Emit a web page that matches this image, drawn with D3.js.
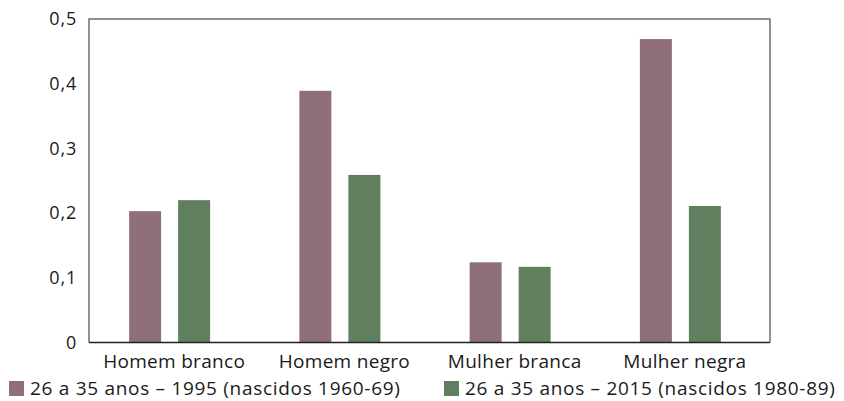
<!DOCTYPE html>
<html>
<head>
<meta charset="utf-8">
<script src="https://cdn.jsdelivr.net/npm/d3@7"></script>
<style>
  body { margin: 0; background: #fff; }
  svg text { font-family: "Open Sans", "Noto Sans", sans-serif; fill: #1a1a1a; }
</style>
</head>
<body>
<div id="container"></div>
<script>
const categories = ['Homem branco', 'Homem negro', 'Mulher branca', 'Mulher negra'];
const series = ['26 a 35 anos – 1995 (nascidos 1960-69)', '26 a 35 anos – 2015 (nascidos 1980-89)'];
const values1995 = [0.203, 0.389, 0.124, 0.469];
const values2015 = [0.220, 0.259, 0.117, 0.211];
const yTicks = [0, 0.1, 0.2, 0.3, 0.4, 0.5];

const w = 844;
const h = 401;
const padLeft = 89, padRight = 770, padTop = 19, padBottom = 342.5;
const colors = ['#8f7079', '#5f7f5f'];

const svg = d3.select('#container')
  .append('svg')
  .attr('width', w)
  .attr('height', h);

const xScale = d3.scaleBand()
  .domain(categories)
  .range([padLeft, padRight]);
const yScale = d3.scaleLinear()
  .domain([0, 0.5])
  .range([padBottom, padTop]);

const barW = 32;
const data = categories.map((c, i) => ({ c, v: [values1995[i], values2015[i]] }));

const groups = svg.selectAll('g.cat')
  .data(data)
  .enter()
  .append('g')
  .attr('class', 'cat');
groups.selectAll('rect')
  .data(d => d.v.map((v, k) => ({ c: d.c, v, k })))
  .enter()
  .append('rect')
  .attr('x', d => xScale(d.c) + xScale.bandwidth() / 2 - 4 - 41 + d.k * 49)
  .attr('y', d => yScale(d.v))
  .attr('width', barW)
  .attr('height', d => yScale(0) - yScale(d.v))
  .attr('fill', d => colors[d.k]);

// frame
svg.append('path')
  .attr('d', `M${padLeft},${padBottom}V${padTop}H${padRight}V${padBottom}`)
  .attr('fill', 'none')
  .attr('stroke', '#6e6e6e')
  .attr('stroke-width', 1.5);
svg.append('line')
  .attr('x1', padLeft).attr('x2', padRight)
  .attr('y1', padBottom).attr('y2', padBottom)
  .attr('stroke', '#222')
  .attr('stroke-width', 1.5);

const yAxis = d3.axisLeft(yScale)
  .tickValues(yTicks)
  .tickSize(0)
  .tickPadding(12)
  .tickFormat(d => d === 0 ? '0' : d3.format('.1f')(d).replace('.', ','));
svg.append('g')
  .attr('transform', `translate(${padLeft},0)`)
  .call(yAxis)
  .call(g => g.select('.domain').remove())
  .selectAll('text')
  .style('font-size', '18px')
  .style('letter-spacing', '0.8px')
  .attr('fill', '#1a1a1a');

const xAxis = d3.axisBottom(xScale).tickSize(0).tickPadding(12.5);
svg.append('g')
  .attr('transform', `translate(0,${padBottom})`)
  .call(xAxis)
  .call(g => g.select('.domain').remove())
  .selectAll('text')
  .style('font-size', '19px')
  .style('letter-spacing', '0.3px')
  .attr('fill', '#1a1a1a');

const legendX = [9, 444];
const legend = svg.selectAll('g.legend')
  .data(series)
  .enter()
  .append('g')
  .attr('class', 'legend')
  .attr('transform', (d, i) => `translate(${legendX[i]},381)`);
legend.append('rect')
  .attr('width', 15)
  .attr('height', 15)
  .attr('fill', (d, i) => colors[i]);
legend.append('text')
  .attr('x', 21)
  .attr('y', 14)
  .style('font-size', '19px')
  .style('letter-spacing', '0.7px')
  .text(d => d);
</script>
</body>
</html>
